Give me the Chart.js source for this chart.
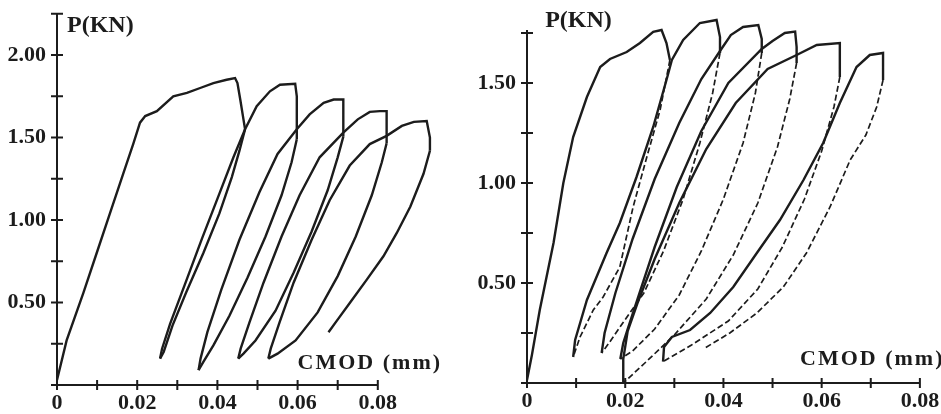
<!DOCTYPE html>
<html>
<head>
<meta charset="utf-8">
<script src="https://cdn.jsdelivr.net/npm/chart.js@4.4.1/dist/chart.umd.min.js"></script>
<style>
  html, body { margin: 0; padding: 0; background: #fff; }
  #wrap { position: relative; width: 941px; height: 414px; overflow: hidden; }
  .box { position: absolute; top: 0; height: 414px; }
  #b1 { left: 0; width: 470px; }
  #b2 { left: 470px; width: 471px; }
</style>
</head>
<body>
<div id="wrap">
  <div class="box" id="b1"><canvas id="c1"></canvas></div>
  <div class="box" id="b2"><canvas id="c2"></canvas></div>
</div>
<script>
// ---- left specimen: CMOD (mm), P (kN) ----
const leftXTicks = [0, 0.01, 0.02, 0.03, 0.04, 0.05, 0.06, 0.07, 0.08];
const leftXLabels = ['0', '', '0.02', '', '0.04', '', '0.06', '', '0.08'];
const leftYTicks = [0, 0.25, 0.5, 0.75, 1, 1.25, 1.5, 1.75, 2, 2.25];
const leftYLabels = ['', '', '0.50', '', '1.00', '', '1.50', '', '2.00', ''];

const leftEnvelope = [[0,0.03],[0.0024,0.27],[0.0066,0.56],[0.0099,0.80],[0.0132,1.04],[0.0165,1.28],[0.019,1.46],[0.0207,1.59],[0.022,1.63],[0.0249,1.66],[0.029,1.75],[0.0324,1.77],[0.0357,1.80],[0.039,1.83],[0.0423,1.85],[0.0444,1.86],[0.045,1.83],[0.0457,1.73],[0.0465,1.61],[0.0469,1.55]];
const leftUnload1 = [[0.0469,1.55],[0.0455,1.42],[0.0436,1.26],[0.0405,1.04],[0.0365,0.80],[0.0322,0.56],[0.0288,0.36],[0.0266,0.20],[0.0257,0.16]];
const leftReload1 = [[0.0257,0.16],[0.0262,0.22],[0.0282,0.37],[0.0322,0.63],[0.0362,0.89],[0.0405,1.16],[0.044,1.38],[0.0469,1.55],[0.0498,1.69],[0.0531,1.78],[0.0556,1.82],[0.0594,1.825],[0.0598,1.75],[0.0598,1.6],[0.0598,1.49]];
const leftUnload2 = [[0.0598,1.49],[0.0585,1.35],[0.056,1.15],[0.052,0.90],[0.0475,0.65],[0.043,0.42],[0.039,0.24],[0.0365,0.14],[0.0353,0.09]];
const leftReload2 = [[0.0353,0.09],[0.0358,0.16],[0.0375,0.32],[0.041,0.58],[0.0455,0.88],[0.0505,1.17],[0.055,1.40],[0.0598,1.55],[0.063,1.64],[0.0665,1.71],[0.069,1.73],[0.0714,1.73],[0.0714,1.62],[0.0714,1.505]];
const leftUnload3 = [[0.0714,1.505],[0.070,1.38],[0.0675,1.18],[0.0635,0.93],[0.059,0.68],[0.0545,0.45],[0.0495,0.27],[0.0465,0.19],[0.0452,0.16]];
const leftReload3 = [[0.0452,0.16],[0.0458,0.22],[0.048,0.38],[0.0515,0.62],[0.056,0.90],[0.0605,1.15],[0.0655,1.38],[0.0714,1.53],[0.075,1.61],[0.078,1.655],[0.0805,1.66],[0.0822,1.66],[0.0822,1.56],[0.0822,1.465]];
const leftUnload4 = [[0.0822,1.465],[0.081,1.35],[0.0785,1.15],[0.0745,0.90],[0.070,0.66],[0.065,0.44],[0.0595,0.27],[0.055,0.19],[0.0527,0.16]];
const leftReload4 = [[0.0527,0.16],[0.0533,0.22],[0.0555,0.38],[0.059,0.62],[0.0635,0.88],[0.068,1.12],[0.073,1.33],[0.078,1.46],[0.0822,1.51],[0.086,1.57],[0.089,1.595],[0.0922,1.60],[0.093,1.50],[0.093,1.42]];
const leftUnload5 = [[0.093,1.42],[0.0914,1.28],[0.0881,1.08],[0.0847,0.92],[0.0814,0.78],[0.0773,0.64],[0.0731,0.50],[0.0698,0.39],[0.0677,0.32]];

// ---- right specimen ----
const rightXTicks = [0, 0.01, 0.02, 0.03, 0.04, 0.05, 0.06, 0.07, 0.08];
const rightXLabels = ['0', '', '0.02', '', '0.04', '', '0.06', '', '0.08'];
const rightYTicks = [0, 0.25, 0.5, 0.75, 1, 1.25, 1.5, 1.75];
const rightYLabels = ['', '', '0.50', '', '1.00', '', '1.50', ''];

const rightEnvelope = [[0,0.015],[0.001,0.14],[0.0026,0.365],[0.0054,0.70],[0.0074,1.0],[0.0094,1.23],[0.0122,1.43],[0.0149,1.58],[0.0169,1.62],[0.0203,1.655],[0.023,1.70],[0.0257,1.756],[0.0274,1.765],[0.0284,1.70],[0.0291,1.615]];
const rightUnload1 = [[0.0291,1.615],[0.0271,1.365],[0.0244,1.13],[0.0216,0.88],[0.0189,0.58],[0.0155,0.43],[0.0135,0.365],[0.0108,0.23],[0.0094,0.13]];
const rightReload1 = [[0.0094,0.13],[0.0098,0.215],[0.0122,0.415],[0.0162,0.65],[0.0189,0.80],[0.0223,1.03],[0.0257,1.28],[0.0284,1.515],[0.0295,1.615],[0.0318,1.715],[0.0352,1.80],[0.0386,1.815],[0.0393,1.73],[0.0393,1.65]];
const rightUnload2 = [[0.0393,1.65],[0.0378,1.45],[0.0352,1.2],[0.0318,0.92],[0.0278,0.66],[0.0238,0.45],[0.0195,0.3],[0.0167,0.2],[0.0152,0.15]];
const rightReload2 = [[0.0152,0.15],[0.0158,0.25],[0.018,0.45],[0.0215,0.72],[0.026,1.02],[0.031,1.30],[0.0355,1.52],[0.0393,1.66],[0.0415,1.74],[0.044,1.78],[0.0471,1.79],[0.0478,1.72],[0.0478,1.65]];
const rightUnload3 = [[0.0478,1.65],[0.0465,1.45],[0.044,1.2],[0.040,0.92],[0.0355,0.66],[0.031,0.44],[0.026,0.27],[0.0215,0.16],[0.019,0.12]];
const rightReload3 = [[0.019,0.12],[0.0196,0.2],[0.0205,0.27],[0.0225,0.42],[0.026,0.68],[0.0305,0.98],[0.0355,1.26],[0.041,1.50],[0.0478,1.67],[0.050,1.71],[0.0525,1.75],[0.0546,1.757],[0.0549,1.68],[0.0549,1.60]];
const rightUnload4 = [[0.0549,1.60],[0.0535,1.42],[0.051,1.18],[0.047,0.90],[0.042,0.64],[0.0365,0.42],[0.030,0.24],[0.024,0.10],[0.0205,0.02],[0.0196,0]];
const rightReload4 = [[0.0196,0],[0.0196,0.12],[0.0205,0.26],[0.0225,0.40],[0.026,0.62],[0.031,0.90],[0.0365,1.17],[0.0425,1.40],[0.049,1.57],[0.0549,1.64],[0.059,1.69],[0.0637,1.70],[0.0637,1.62],[0.0637,1.53]];
const rightUnload5 = [[0.0637,1.53],[0.0625,1.38],[0.060,1.16],[0.0565,0.92],[0.052,0.68],[0.047,0.47],[0.041,0.31],[0.0335,0.19],[0.0277,0.107]];
const rightReload5 = [[0.0277,0.107],[0.0279,0.18],[0.0295,0.23],[0.0332,0.265],[0.0373,0.35],[0.042,0.48],[0.0468,0.65],[0.0515,0.815],[0.0563,1.015],[0.0603,1.2],[0.0637,1.4],[0.0671,1.58],[0.0698,1.64],[0.0725,1.65],[0.0725,1.58],[0.0725,1.515]];
const rightUnload6 = [[0.0725,1.515],[0.0712,1.38],[0.069,1.24],[0.0658,1.115],[0.0617,0.88],[0.0569,0.65],[0.0522,0.48],[0.0468,0.35],[0.0413,0.25],[0.0359,0.17]];

const INK = '#1c1c1c';
const tickFont = { family: 'Liberation Serif', size: 22, weight: 'bold' };

function solid(pts) {
  return { data: pts.map(([x, y]) => ({ x, y })), showLine: true, borderColor: INK, borderWidth: 2.4, pointRadius: 0, tension: 0 };
}
function dashed(pts) {
  return Object.assign(solid(pts), { borderWidth: 1.7, borderDash: [6, 3] });
}

// axis lines with ticks crossing both sides, plus the axis titles
const crossAxes = {
  id: 'crossAxes',
  afterDraw(chart, args, o) {
    const ctx = chart.ctx, xs = chart.scales.x, ys = chart.scales.y;
    const x0 = xs.getPixelForValue(0), y0 = ys.getPixelForValue(0);
    ctx.save();
    ctx.strokeStyle = INK;
    ctx.lineWidth = 2;
    ctx.beginPath();
    ctx.moveTo(x0, y0); ctx.lineTo(xs.getPixelForValue(o.xEnd), y0);
    ctx.moveTo(x0, y0); ctx.lineTo(x0, ys.getPixelForValue(o.yEnd));
    xs.ticks.forEach(t => { const p = xs.getPixelForValue(t.value); ctx.moveTo(p, y0 - 5); ctx.lineTo(p, y0 + 5); });
    ys.ticks.forEach(t => { const p = ys.getPixelForValue(t.value); ctx.moveTo(x0 - 6, p); ctx.lineTo(x0 + 6, p); });
    ctx.stroke();
    ctx.fillStyle = INK;
    ctx.textBaseline = 'alphabetic';
    ctx.font = 'bold 24px "Liberation Serif"';
    ctx.fillText('P(KN)', xs.getPixelForValue(o.pPos[0]), ys.getPixelForValue(o.pPos[1]));
    ctx.font = 'bold 22px "Liberation Serif"';
    ctx.letterSpacing = '2px';
    ctx.fillText('CMOD (mm)', xs.getPixelForValue(o.cPos[0]), ys.getPixelForValue(o.cPos[1]));
    ctx.restore();
  }
};

function makeChart(id, sets, s) {
  return new Chart(document.getElementById(id), {
    type: 'scatter',
    data: { datasets: sets },
    options: {
      responsive: true,
      maintainAspectRatio: false,
      animation: false,
      layout: { padding: { top: s.padTop, right: s.padRight, left: 0, bottom: 0 } },
      plugins: { legend: { display: false }, tooltip: { enabled: false }, crossAxes: s.axes },
      scales: {
        x: {
          type: 'linear', min: 0, max: s.xMax,
          afterBuildTicks: sc => { sc.ticks = s.xTicks.map(v => ({ value: v })); },
          afterFit: sc => { sc.height = s.xHeight; sc.paddingLeft = 0; sc.paddingRight = 0; },
          ticks: { callback: (v, i) => s.xLabels[i], font: tickFont, color: INK, padding: 5, maxRotation: 0, autoSkip: false },
          grid: { display: false, drawTicks: false, tickLength: 0 },
          border: { display: false }
        },
        y: {
          type: 'linear', min: 0, max: s.yMax,
          afterBuildTicks: sc => { sc.ticks = s.yTicks.map(v => ({ value: v })); },
          afterFit: sc => { sc.width = 57; sc.paddingTop = 0; sc.paddingBottom = 0; },
          ticks: { callback: (v, i) => s.yLabels[i], font: tickFont, color: INK, padding: 11, autoSkip: false },
          grid: { display: false, drawTicks: false, tickLength: 0 },
          border: { display: false }
        }
      }
    },
    plugins: [crossAxes]
  });
}

makeChart('c1', [
  solid(leftEnvelope), solid(leftUnload1), solid(leftReload1), solid(leftUnload2), solid(leftReload2),
  solid(leftUnload3), solid(leftReload3), solid(leftUnload4), solid(leftReload4), solid(leftUnload5)
], {
  xMax: 0.1, yMax: 2.25, padTop: 13.75, padRight: 12, xHeight: 29,
  xTicks: leftXTicks, xLabels: leftXLabels, yTicks: leftYTicks, yLabels: leftYLabels,
  axes: { xEnd: 0.08, yEnd: 2.25, pPos: [0.0025, 2.14], cPos: [0.06, 0.10] }
});

makeChart('c2', [
  solid(rightEnvelope), dashed(rightUnload1), solid(rightReload1), dashed(rightUnload2), solid(rightReload2),
  dashed(rightUnload3), solid(rightReload3), dashed(rightUnload4), solid(rightReload4), dashed(rightUnload5),
  solid(rightReload5), dashed(rightUnload6)
], {
  xMax: 0.0843, yMax: 1.9, padTop: 3, padRight: 0, xHeight: 31,
  xTicks: rightXTicks, xLabels: rightXLabels, yTicks: rightYTicks, yLabels: rightYLabels,
  axes: { xEnd: 0.08, yEnd: 1.765, pPos: [0.0037, 1.78], cPos: [0.0556, 0.09] }
});
</script>
</body>
</html>
